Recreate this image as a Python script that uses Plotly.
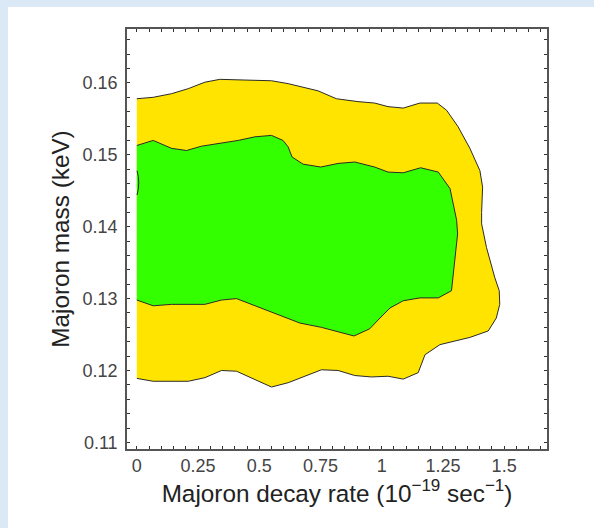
import plotly.graph_objects as go

# ---- data ----
outer_x = [0, 0.067, 0.142, 0.21, 0.278, 0.339, 0.441, 0.55, 0.618, 0.74, 0.815, 0.903, 0.971, 1.026,
           1.088, 1.156, 1.227, 1.265, 1.312, 1.36, 1.401, 1.412, 1.408, 1.408, 1.428, 1.462, 1.48,
           1.482, 1.468, 1.435, 1.36, 1.238, 1.177, 1.163, 1.149, 1.088, 1.026, 0.958, 0.89, 0.822,
           0.754, 0.618, 0.55, 0.407, 0.346, 0.278, 0.21, 0.067, 0]
outer_y = [0.1578, 0.1580, 0.1585, 0.1592, 0.1601, 0.1605, 0.1604, 0.1603, 0.1599, 0.1589, 0.1578,
           0.1574, 0.1572, 0.1567, 0.1565, 0.1572, 0.1572, 0.1562, 0.1539, 0.1509, 0.1478, 0.1455,
           0.1420, 0.1404, 0.1371, 0.1329, 0.1311, 0.1292, 0.1273, 0.1255, 0.1246, 0.1236, 0.1222,
           0.1208, 0.1197, 0.1188, 0.1192, 0.1191, 0.1193, 0.1200, 0.1201, 0.1183, 0.1177, 0.1199,
           0.1200, 0.1190, 0.1185, 0.1185, 0.1189]

inner_x = [0, 0.067, 0.142, 0.203, 0.264, 0.346, 0.414, 0.482, 0.55, 0.597, 0.618, 0.634, 0.679,
           0.751, 0.822, 0.89, 0.971, 1.026, 1.088, 1.159, 1.231, 1.279, 1.295, 1.306, 1.31, 1.299,
           1.285, 1.231, 1.156, 1.088, 1.034, 0.993, 0.951, 0.887, 0.754, 0.666, 0.523, 0.407,
           0.346, 0.278, 0.142, 0.067, 0]
inner_y = [0.1513, 0.1520, 0.1509, 0.1506, 0.1512, 0.1516, 0.1520, 0.1525, 0.1527, 0.1520, 0.1511,
           0.1497, 0.1487, 0.1483, 0.1488, 0.1490, 0.1483, 0.1476, 0.1475, 0.1482, 0.1476, 0.1453,
           0.1427, 0.1409, 0.1390, 0.1357, 0.1311, 0.1301, 0.1301, 0.1297, 0.1287, 0.1273, 0.1258,
           0.1248, 0.1260, 0.1266, 0.1285, 0.1300, 0.1298, 0.1292, 0.1292, 0.1290, 0.1298]

# small contour fragment at the left edge
frag_x = [0.001, 0.006, 0.008, 0.006, 0.001]
frag_y = [0.1478, 0.1470, 0.1461, 0.1452, 0.1444]

x_tick_vals = [0, 0.25, 0.5, 0.75, 1.0, 1.25, 1.5]
x_tick_text = ["0", "0.25", "0.5", "0.75", "1", "1.25", "1.5"]
y_tick_vals = [0.11, 0.12, 0.13, 0.14, 0.15, 0.16]
y_tick_text = ["0.11", "0.12", "0.13", "0.14", "0.15", "0.16"]
x_minor_step = 0.05
y_minor_step = 0.002

x_range = [-0.04, 1.675]
y_range = [0.10908, 0.1675]

YELLOW = "#FFE400"
GREEN = "#33FF00"
LINE = "#2a2a2a"

fig = go.Figure()
fig.add_trace(go.Scatter(x=outer_x, y=outer_y, mode="lines", fill="toself", fillcolor=YELLOW,
                         line=dict(color=LINE, width=1), hoverinfo="skip", showlegend=False))
fig.add_trace(go.Scatter(x=inner_x, y=inner_y, mode="lines", fill="toself", fillcolor=GREEN,
                         line=dict(color=LINE, width=1), hoverinfo="skip", showlegend=False))
fig.add_trace(go.Scatter(x=frag_x, y=frag_y, mode="lines",
                         line=dict(color=LINE, width=1), hoverinfo="skip", showlegend=False))

W, H = 594, 528
ml, mr, mt, mb = 127, 47, 29, 79
pw, ph = W - ml - mr, H - mt - mb

def px_to_paper_x(px):
    return (px - ml) / pw

def py_to_paper_y(py):
    return (H - mb - py) / ph

BLUE = "#dbe8f5"
fig.update_layout(
    width=W, height=H,
    margin=dict(l=ml, r=mr, t=mt, b=mb),
    paper_bgcolor=BLUE,
    plot_bgcolor="white",
    font=dict(family="Liberation Sans, Arial, sans-serif", color="#333"),
    shapes=[dict(type="rect", xref="paper", yref="paper", layer="below",
                 x0=px_to_paper_x(8), x1=px_to_paper_x(W + 5),
                 y0=py_to_paper_y(H + 5), y1=py_to_paper_y(7),
                 fillcolor="white", line=dict(width=0))],
)

fig.update_xaxes(
    range=x_range, showgrid=False, zeroline=False,
    tickmode="array", tickvals=x_tick_vals, ticktext=x_tick_text,
    ticks="inside", ticklen=3, tickwidth=1, tickcolor="#333",
    minor=dict(tick0=0, dtick=x_minor_step, ticks="inside", ticklen=3, tickwidth=1,
               tickcolor="#333", showgrid=False),
    showline=True, linecolor="#555", linewidth=1.5, mirror="allticks",
    tickfont=dict(size=18, color="#444"),
    title=dict(text="Majoron decay rate (10<sup>\u221219</sup> sec<sup>\u22121</sup>)",
               font=dict(size=24.3, color="#222"), standoff=3),
)
fig.update_yaxes(
    range=y_range, showgrid=False, zeroline=False,
    tickmode="array", tickvals=y_tick_vals, ticktext=y_tick_text,
    ticks="inside", ticklen=3, tickwidth=1, tickcolor="#333",
    minor=dict(tick0=0.11, dtick=y_minor_step, ticks="inside", ticklen=3, tickwidth=1,
               tickcolor="#333", showgrid=False),
    showline=True, linecolor="#555", linewidth=1.5, mirror="allticks",
    tickfont=dict(size=18, color="#444"),
    ticklabelstandoff=4,
    title=dict(text="Majoron mass (keV)", font=dict(size=24.3, color="#222"), standoff=6),
)

fig.write_html("out.html")
